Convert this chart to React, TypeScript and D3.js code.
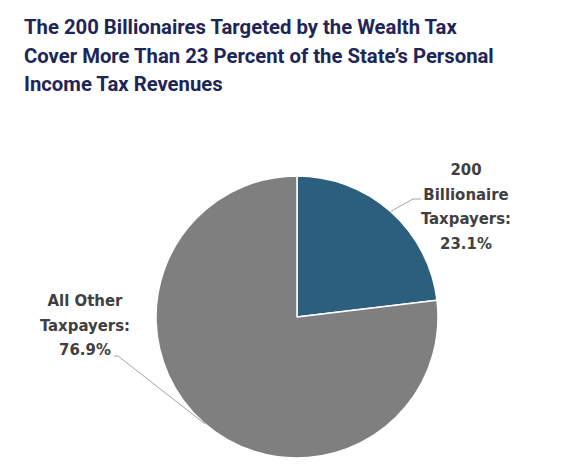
import * as d3 from "d3";

const categories = ["200 Billionaire Taxpayers", "All Other Taxpayers"];
const shares = [23.1, 76.9];
const colors = ["#2c5e7e", "#7f7f7f"];
const labelLines = [
  ["200", "Billionaire", "Taxpayers:", "23.1%"],
  ["All Other", "Taxpayers:", "76.9%"],
];
const titleLines = [
  "The 200 Billionaires Targeted by the Wealth Tax",
  "Cover More Than 23 Percent of the State\u2019s Personal",
  "Income Tax Revenues",
];

const W = 565;
const H = 476;

export default function App() {
  const cx = 297;
  const cy = 317;
  const r = 141;

  const pie = d3
    .pie<number>()
    .value((d) => d)
    .sort(null);
  const arcs = pie(shares);
  const arc = d3.arc<d3.PieArcDatum<number>>().innerRadius(0).outerRadius(r);

  // leader line anchors on the rim
  const blueMid = (arcs[0].startAngle + arcs[0].endAngle) / 2;
  const p0 = [cx + r * Math.sin(blueMid), cy - r * Math.cos(blueMid)];
  const leftY = 424;
  const p1 = [cx - Math.sqrt(r * r - (leftY - cy) ** 2), leftY];

  const labelFont = "'DejaVu Sans Condensed', 'Liberation Sans Narrow', sans-serif";

  return (
    <svg
      width={W}
      height={H}
      style={{ position: "absolute", left: 0, top: 0, background: "#fff" }}
    >
      {titleLines.map((t, i) => (
        <text
          key={i}
          x={24}
          y={34 + i * 28.5}
          fontFamily="Roboto, sans-serif"
          fontWeight={700}
          fontSize={20.3}
          fill="#1d2657"
        >
          {t}
        </text>
      ))}

      <g transform={`translate(${cx},${cy})`}>
        {arcs.map((a, i) => (
          <path
            key={categories[i]}
            d={arc(a) ?? ""}
            fill={colors[i]}
            stroke="#fff"
            strokeWidth={1.5}
            strokeLinejoin="round"
          />
        ))}
      </g>

      <polyline
        points={`${p0[0]},${p0[1]} 413,199 421,199`}
        fill="none"
        stroke="#a6a6a6"
        strokeWidth={1}
      />
      <polyline
        points={`${p1[0]},${p1[1]} 118,356 114,356`}
        fill="none"
        stroke="#a6a6a6"
        strokeWidth={1}
      />

      {labelLines[0].map((t, i) => (
        <text
          key={t + i}
          x={466}
          y={175 + i * 24.7}
          textAnchor="middle"
          fontFamily={labelFont}
          fontWeight={700}
          fontSize={16.6}
          fill="#404040"
        >
          {t}
        </text>
      ))}
      {labelLines[1].map((t, i) => (
        <text
          key={t + i}
          x={85}
          y={306 + i * 24.5}
          textAnchor="middle"
          fontFamily={labelFont}
          fontWeight={700}
          fontSize={16.6}
          fill="#404040"
        >
          {t}
        </text>
      ))}
    </svg>
  );
}
